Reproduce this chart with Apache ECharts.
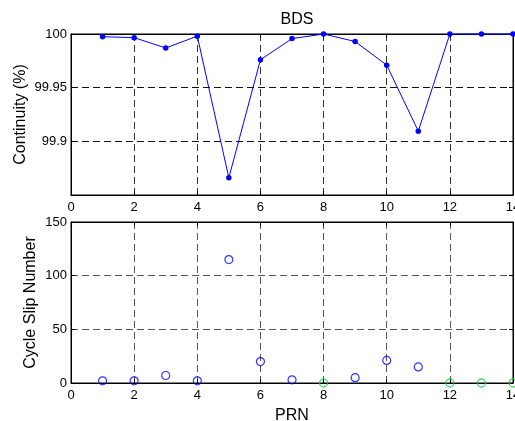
<!DOCTYPE html>
<html>
<head>
<meta charset="utf-8">
<style>
  html, body { margin: 0; padding: 0; background: #fff; }
  #chart { width: 515px; height: 421px; }
</style>
<script src="https://cdn.jsdelivr.net/npm/echarts@6/dist/echarts.min.js"></script>
</head>
<body>
<div id="chart"></div>
<script>
// BDS satellites by PRN
const prn = [1, 2, 3, 4, 5, 6, 7, 8, 9, 10, 11, 12, 13, 14];
// Continuity per satellite (%)
const continuity = [99.9975, 99.9966, 99.987, 99.998, 99.866, 99.976, 99.9957, 100, 99.993, 99.971, 99.9095, 100, 100, 100];
// Number of cycle slips per satellite
const cycleSlips = [2, 2, 7, 2, 115, 20, 3, 0, 5, 21, 15, 0, 0, 0];
// Axis ticks
const xTicks = [0, 2, 4, 6, 8, 10, 12, 14];
const contTicks = [99.85, 99.9, 99.95, 100];
const slipTicks = [0, 50, 100, 150];

const FONT = '"Liberation Sans", Arial, Helvetica, sans-serif';

const contPoints = prn.map((p, i) => [p, continuity[i]]);
const slipPoints = prn.map((p, i) => [p, cycleSlips[i]]).filter(d => d[1] > 0);
const zeroPoints = prn.map((p, i) => [p, cycleSlips[i]]).filter(d => d[1] === 0);

const axisLabel = { fontFamily: FONT, fontSize: 13, color: '#000' };
const blackLine = { lineStyle: { color: '#000', width: 1 } };
const innerTick = { show: true, inside: true, length: 4, lineStyle: { color: '#000' } };
const nameStyle = { fontFamily: FONT, fontSize: 16, color: '#000' };

function xAxisFor(gridIndex, gridColor) {
  return {
    type: 'value', gridIndex,
    min: xTicks[0], max: xTicks[xTicks.length - 1], interval: xTicks[1] - xTicks[0],
    axisLine: { show: true, onZero: false, ...blackLine },
    axisTick: innerTick,
    axisLabel: { ...axisLabel, margin: 6 },
    splitLine: { show: true, lineStyle: { color: gridColor, type: [7, 4], width: 1 } }
  };
}
// Box edges on the top and right sides, with inward ticks only
function frameAxis(gridIndex, ticks, position) {
  return {
    type: 'value', gridIndex, position,
    min: ticks[0], max: ticks[ticks.length - 1], interval: ticks[1] - ticks[0],
    axisLine: { show: true, onZero: false, ...blackLine },
    axisTick: innerTick,
    axisLabel: { show: false }, splitLine: { show: false }
  };
}

const gridBase = {
  left: 71, width: 442, height: 161,
  show: true, borderColor: '#000', borderWidth: 1, backgroundColor: '#fff',
  containLabel: false, outerBoundsMode: 'none'
};

const option = {
  animation: false,
  backgroundColor: '#fff',
  title: {
    text: 'BDS', left: 292, top: 7, textAlign: 'center',
    textStyle: { fontFamily: FONT, fontSize: 16, fontWeight: 'normal', color: '#000' }
  },
  grid: [
    { ...gridBase, top: 34 },
    { ...gridBase, top: 222 }
  ],
  xAxis: [
    xAxisFor(0, '#333'),
    {
      ...xAxisFor(1, '#555'),
      name: 'PRN', nameLocation: 'middle', nameGap: 25, nameMoveOverlap: false,
      nameTextStyle: nameStyle
    },
    frameAxis(0, xTicks, 'top'),
    frameAxis(1, xTicks, 'top')
  ],
  yAxis: [
    {
      type: 'value', gridIndex: 0,
      min: contTicks[0], max: contTicks[contTicks.length - 1], interval: contTicks[1] - contTicks[0],
      name: 'Continuity (%)', nameLocation: 'middle', nameGap: 42, nameMoveOverlap: false,
      nameTextStyle: nameStyle,
      axisLine: { show: true, onZero: false, ...blackLine },
      axisTick: innerTick,
      axisLabel: {
        ...axisLabel, margin: 4,
        formatter: v => (Math.abs(v - contTicks[0]) < 1e-6 ? '' : String(+v.toFixed(2)))
      },
      splitLine: { show: true, lineStyle: { color: '#111', type: [7, 4], width: 1 } }
    },
    {
      type: 'value', gridIndex: 1,
      min: slipTicks[0], max: slipTicks[slipTicks.length - 1], interval: slipTicks[1] - slipTicks[0],
      name: 'Cycle Slip Number', nameLocation: 'middle', nameGap: 32, nameMoveOverlap: false,
      nameTextStyle: nameStyle,
      axisLine: { show: true, onZero: false, ...blackLine },
      axisTick: innerTick,
      axisLabel: { ...axisLabel, margin: 4 },
      splitLine: { show: true, lineStyle: { color: '#555', type: [7, 4], width: 1 } }
    },
    frameAxis(0, contTicks, 'right'),
    frameAxis(1, slipTicks, 'right')
  ],
  series: [
    {
      name: 'Continuity', type: 'line', xAxisIndex: 0, yAxisIndex: 0,
      data: contPoints, clip: false,
      symbol: 'circle', symbolSize: 5.5, showSymbol: true,
      lineStyle: { color: '#0000ff', width: 1 },
      itemStyle: { color: '#0000ff' }
    },
    {
      name: 'Cycle slips', type: 'scatter', xAxisIndex: 1, yAxisIndex: 1,
      data: slipPoints, clip: false,
      symbol: 'circle', symbolSize: 8,
      itemStyle: { color: 'rgba(0,0,0,0)', borderColor: '#0000ff', borderWidth: 1.2 }
    },
    {
      name: 'No cycle slips', type: 'scatter', xAxisIndex: 1, yAxisIndex: 1,
      data: zeroPoints, clip: false,
      symbol: 'circle', symbolSize: 8,
      itemStyle: { color: 'rgba(0,0,0,0)', borderColor: '#10d040', borderWidth: 1.3 }
    }
  ]
};

echarts.init(document.getElementById('chart'), null, { renderer: 'canvas' }).setOption(option);
</script>
</body>
</html>
